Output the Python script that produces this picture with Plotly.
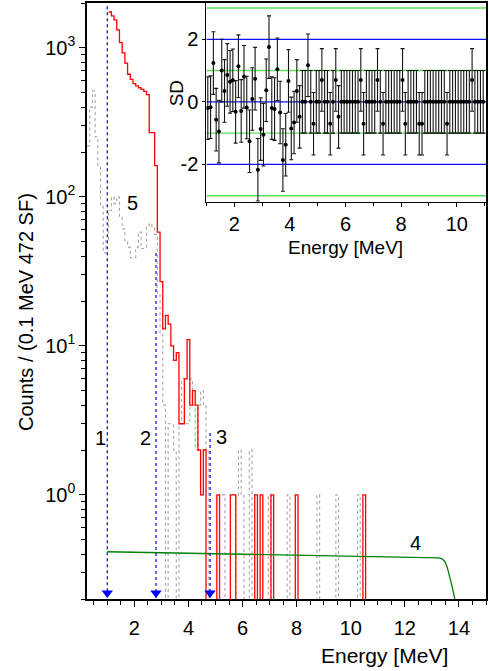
import numpy as np
import plotly.graph_objects as go

BIN = 0.1  # MeV per channel

# ---- Red spectrum (curve to the right): bin left edges and counts (non-zero bins)
red_edges = [1.05, 1.15, 1.25, 1.35, 1.45, 1.55, 1.65, 1.75, 1.85, 1.95,
             2.05, 2.15, 2.25, 2.35, 2.45, 2.55, 2.65, 2.75, 2.85, 2.95,
             3.05, 3.15, 3.25, 3.35, 3.45, 3.55, 3.65, 3.75, 3.85, 3.95,
             4.05, 4.15, 4.25, 4.35, 4.45, 4.55,
             5.05, 5.55, 5.65, 6.45, 6.65, 7.05, 7.95, 10.45]
red_counts = [1740, 1640, 1540, 1320, 1085, 925, 790, 665, 615, 576,
              556, 540, 527, 510, 485, 270, 270, 162, 58, 27,
              13, 16, 14, 10, 8, 9, 3, 3, 6, 11,
              4, 5, 4, 2, 1, 2,
              1, 1, 1, 1, 1, 1, 1, 1]

# ---- Grey spectrum (5): bin left edges and counts (non-zero bins)
gray_edges = [0.25, 0.35, 0.45, 0.55, 0.65, 0.75, 0.85, 0.95, 1.05, 1.15,
              1.25, 1.35, 1.45, 1.55, 1.65, 1.75, 1.85, 1.95, 2.05, 2.15,
              2.25, 2.35, 2.45, 2.55, 2.65, 2.75, 2.85, 2.95, 3.05,
              3.25, 3.35, 3.45, 3.65, 3.75, 3.85, 3.95, 4.05, 4.15, 4.25,
              4.35, 4.45, 4.55, 4.65,
              5.15, 5.25, 5.75, 5.85, 5.95, 6.25, 6.95, 7.65, 8.75, 9.45, 10.25]
gray_counts = [220, 400, 514, 253, 158, 86, 42, 52, 81, 100,
               90, 100, 73, 61, 51, 46, 39, 39, 46, 58,
               45, 45, 64, 66, 62, 56, 22, 12, 4,
               3, 3, 2, 3, 6, 3, 3, 6, 4, 2,
               4, 5, 4, 2,
               1, 1, 1, 2, 1, 2, 1, 1, 1, 1, 1]

# ---- Green curve (4)
green_E = [1.0, 3.0, 5.0, 7.0, 9.0, 11.0, 13.25, 13.38, 13.48, 13.56, 13.64, 13.72, 13.8, 13.87]
green_V = [0.415, 0.409, 0.403, 0.397, 0.391, 0.385, 0.378, 0.372, 0.356, 0.33, 0.295, 0.255, 0.22, 0.19]

# ---- Marker lines 1, 2, 3
mark_E = [1.0, 2.8, 4.8]
mark_top = [1900, 42, 2.6]
mark_labels = ["1", "2", "3"]
mark_label_E = [0.74, 2.43, 5.22]
mark_label_V = [2.4, 2.4, 2.44]

# ---- Inset: deviation in SD per 0.1 MeV bin
sd_E0, sd_step, sd_n = 1.05, 0.1, 100
sd_val = [-0.20, -0.17, 1.24, -0.57, -0.95, 1.00, 0.35, 0.86, 0.64, 0.69,
          -0.32, 1.14, -0.29, 0.80, -0.18, -1.26, 0.09, 0.74, -2.17, -0.87,
          -1.05, 0.37, 1.75, -0.20, -0.23, 1.04, -0.34, -1.86, -1.37, 0.67,
          -0.85, -0.66, 0.35, -0.48, 0.00, 0.00, 1.17, 0.00, -0.70, 0.00,
          0.00, 0.70, 0.00, 0.00, -0.70, 0.00, 0.70, -0.48, 0.00, 0.00,
          0.00, 0.00, 0.00, 0.00, 0.00, 0.70, -0.70, 0.00, 0.00, 0.00,
          0.00, 0.70, 0.00, -0.70, 0.00, 0.00, 0.00, 0.00, 0.00, 0.00,
          0.70, -0.70, 0.00, 0.00, 0.00, 0.00, -0.70, -0.70, 0.00, 0.00,
          0.00, 0.00, 0.00, 0.00, 0.00, 0.00, -0.70, 0.00, 0.00, 0.00,
          0.00, 0.00, 0.00, 0.00, 0.00, 0.70, 0.00, 0.00, 0.00, 0.00]
sd_err = [1.0] * sd_n
sd_blue_levels = [-2, 0, 2]
sd_green_levels = [-3, -1, 1, 3]

# ---- axes
X_RANGE = [0.25, 15.0]
Y_RANGE = [0.2, 2000.0]
X_TICKS = [2, 4, 6, 8, 10, 12, 14]
Y_TICKS = [1, 10, 100, 1000]
Y_TICKTEXT = ["10<sup>0</sup>", "10<sup>1</sup>", "10<sup>2</sup>", "10<sup>3</sup>"]
INSET_X_RANGE = [1.0, 11.05]
INSET_Y_RANGE = [-3.19, 3.16]

FONT = "Liberation Sans, Arial, sans-serif"
FLOOR = 0.02  # draw zero-count channels below the visible range


def step_path(edges, counts):
    lookup = {round(e, 2): c for e, c in zip(edges, counts)}
    grid = np.round(np.arange(min(edges), max(edges) + BIN / 2, BIN), 2)
    vals = [lookup.get(round(g, 2), 0) for g in grid]
    xs = list(grid) + [round(grid[-1] + BIN, 2)]
    ys = [v if v > 0 else FLOOR for v in vals] + [FLOOR]
    return xs, ys


fig = go.Figure()

gx, gy = step_path(gray_edges, gray_counts)
fig.add_trace(go.Scatter(x=gx, y=gy, mode="lines", line_shape="hv",
                         line=dict(color="rgb(165,165,165)", width=1.1, dash="dot"),
                         showlegend=False, hoverinfo="skip"))
rx, ry = step_path(red_edges, red_counts)
fig.add_trace(go.Scatter(x=rx, y=ry, mode="lines", line_shape="hv",
                         line=dict(color="#ff0000", width=1.3),
                         showlegend=False, hoverinfo="skip"))
fig.add_trace(go.Scatter(x=green_E, y=green_V, mode="lines",
                         line=dict(color="#008000", width=1.3),
                         showlegend=False, hoverinfo="skip"))

# dotted marker lines with arrow heads at the axis floor
decade_px = 597 / (np.log10(Y_RANGE[1]) - np.log10(Y_RANGE[0]))
arrow_y = Y_RANGE[0] * 10 ** (6 / decade_px)
for e, top in zip(mark_E, mark_top):
    fig.add_trace(go.Scatter(x=[e, e], y=[top, Y_RANGE[0]], mode="lines",
                             line=dict(color="#0000ff", width=1.2, dash="dot"),
                             showlegend=False, hoverinfo="skip"))
fig.add_trace(go.Scatter(x=mark_E, y=[arrow_y] * len(mark_E), mode="markers",
                         marker=dict(symbol="triangle-down", size=10, color="#0000ff"),
                         showlegend=False, hoverinfo="skip", cliponaxis=False))

# ---- inset reference levels (drawn as lines across the inset x range)
for lv in sd_green_levels:
    fig.add_trace(go.Scatter(x=INSET_X_RANGE, y=[lv, lv], mode="lines", xaxis="x2", yaxis="y2",
                             line=dict(color="rgb(90,225,90)", width=1.4),
                             showlegend=False, hoverinfo="skip"))
for lv in sd_blue_levels:
    fig.add_trace(go.Scatter(x=INSET_X_RANGE, y=[lv, lv], mode="lines", xaxis="x2", yaxis="y2",
                             line=dict(color="#1010ff", width=1.2),
                             showlegend=False, hoverinfo="skip"))

sd_x = np.round(sd_E0 + sd_step * np.arange(sd_n), 2)
fig.add_trace(go.Scatter(x=sd_x, y=sd_val, mode="markers", xaxis="x2", yaxis="y2",
                         marker=dict(color="black", size=4),
                         error_y=dict(type="data", array=sd_err, color="rgb(20,20,20)",
                                      thickness=1.1, width=2),
                         showlegend=False, hoverinfo="skip"))


def ann(text, x, y, xref, yref, size, angle=0):
    return dict(x=x, y=y, xref=xref, yref=yref, text=text, showarrow=False,
                textangle=angle, xanchor="center", yanchor="middle",
                font=dict(size=size, family=FONT, color="black"))


annotations = []
for t, e, v in zip(mark_labels, mark_label_E, mark_label_V):
    annotations.append(ann(t, e, np.log10(v), "x", "y", 20))
annotations.append(ann("4", 12.39, np.log10(0.474), "x", "y", 20))
annotations.append(ann("5", 1.95, np.log10(91.4), "x", "y", 20))
annotations.append(ann("Counts / (0.1 MeV 472 SF)", -0.1546, 0.482, "paper", "paper", 20, -90))
annotations.append(ann("Energy [MeV]", 0.746, -0.094, "paper", "paper", 21))
annotations.append(ann("SD", 0.2244, 0.8476, "paper", "paper", 19, -90))
annotations.append(ann("Energy [MeV]", 0.647, 0.589, "paper", "paper", 19))

y_minor = [m * 10.0 ** d for d in range(-1, 4) for m in range(2, 10)
           if Y_RANGE[0] <= m * 10.0 ** d <= Y_RANGE[1]]

fig.update_layout(
    width=489, height=671,
    margin=dict(l=87, r=1, t=2, b=72),
    paper_bgcolor="white", plot_bgcolor="white",
    font=dict(family=FONT, size=20, color="black"),
    showlegend=False,
    annotations=annotations,
    xaxis=dict(range=X_RANGE, tickmode="array", tickvals=X_TICKS,
               ticks="outside", ticklen=6, tickwidth=1.3, tickcolor="black",
               minor=dict(dtick=0.5, tick0=0, ticks="outside", ticklen=4, tickwidth=1.1,
                          tickcolor="black"),
               showline=True, linecolor="black", linewidth=1.6, mirror=True,
               showgrid=False, zeroline=False, ticklabelstandoff=4,
               tickfont=dict(size=20, family=FONT)),
    yaxis=dict(type="log", range=[np.log10(Y_RANGE[0]), np.log10(Y_RANGE[1])],
               tickmode="array", tickvals=Y_TICKS, ticktext=Y_TICKTEXT,
               ticks="outside", ticklen=6, tickwidth=1.3, tickcolor="black",
               minor=dict(tickmode="array", tickvals=y_minor, ticks="outside", ticklen=4,
                          tickwidth=1.1, tickcolor="black"),
               showline=True, linecolor="black", linewidth=1.6, mirror=True,
               showgrid=False, zeroline=False,
               tickfont=dict(size=20, family=FONT)),
    xaxis2=dict(domain=[0.2993, 1.0], anchor="y2", range=INSET_X_RANGE,
                tickmode="array", tickvals=[2, 4, 6, 8, 10],
                ticks="outside", ticklen=4, tickwidth=1.1, tickcolor="black",
                minor=dict(dtick=1, tick0=0, ticks="outside", ticklen=3, tickcolor="black"),
                showline=True, linecolor="black", linewidth=1.2, mirror=True,
                showgrid=False, zeroline=False,
                tickfont=dict(size=20, family=FONT)),
    yaxis2=dict(domain=[0.6667, 1.0], anchor="x2", range=INSET_Y_RANGE,
                tickmode="array", tickvals=[-2, 0, 2], ticktext=["-2", "0", "2"],
                ticks="outside", ticklen=3, tickwidth=1.1, tickcolor="black",
                showline=True, linecolor="black", linewidth=1.2, mirror=True,
                showgrid=False, zeroline=False,
                tickfont=dict(size=20, family=FONT)),
)

fig.write_html("out.html", config={"displayModeBar": False},
               post_script="document.body.style.margin='0';document.body.style.overflow='hidden';")
